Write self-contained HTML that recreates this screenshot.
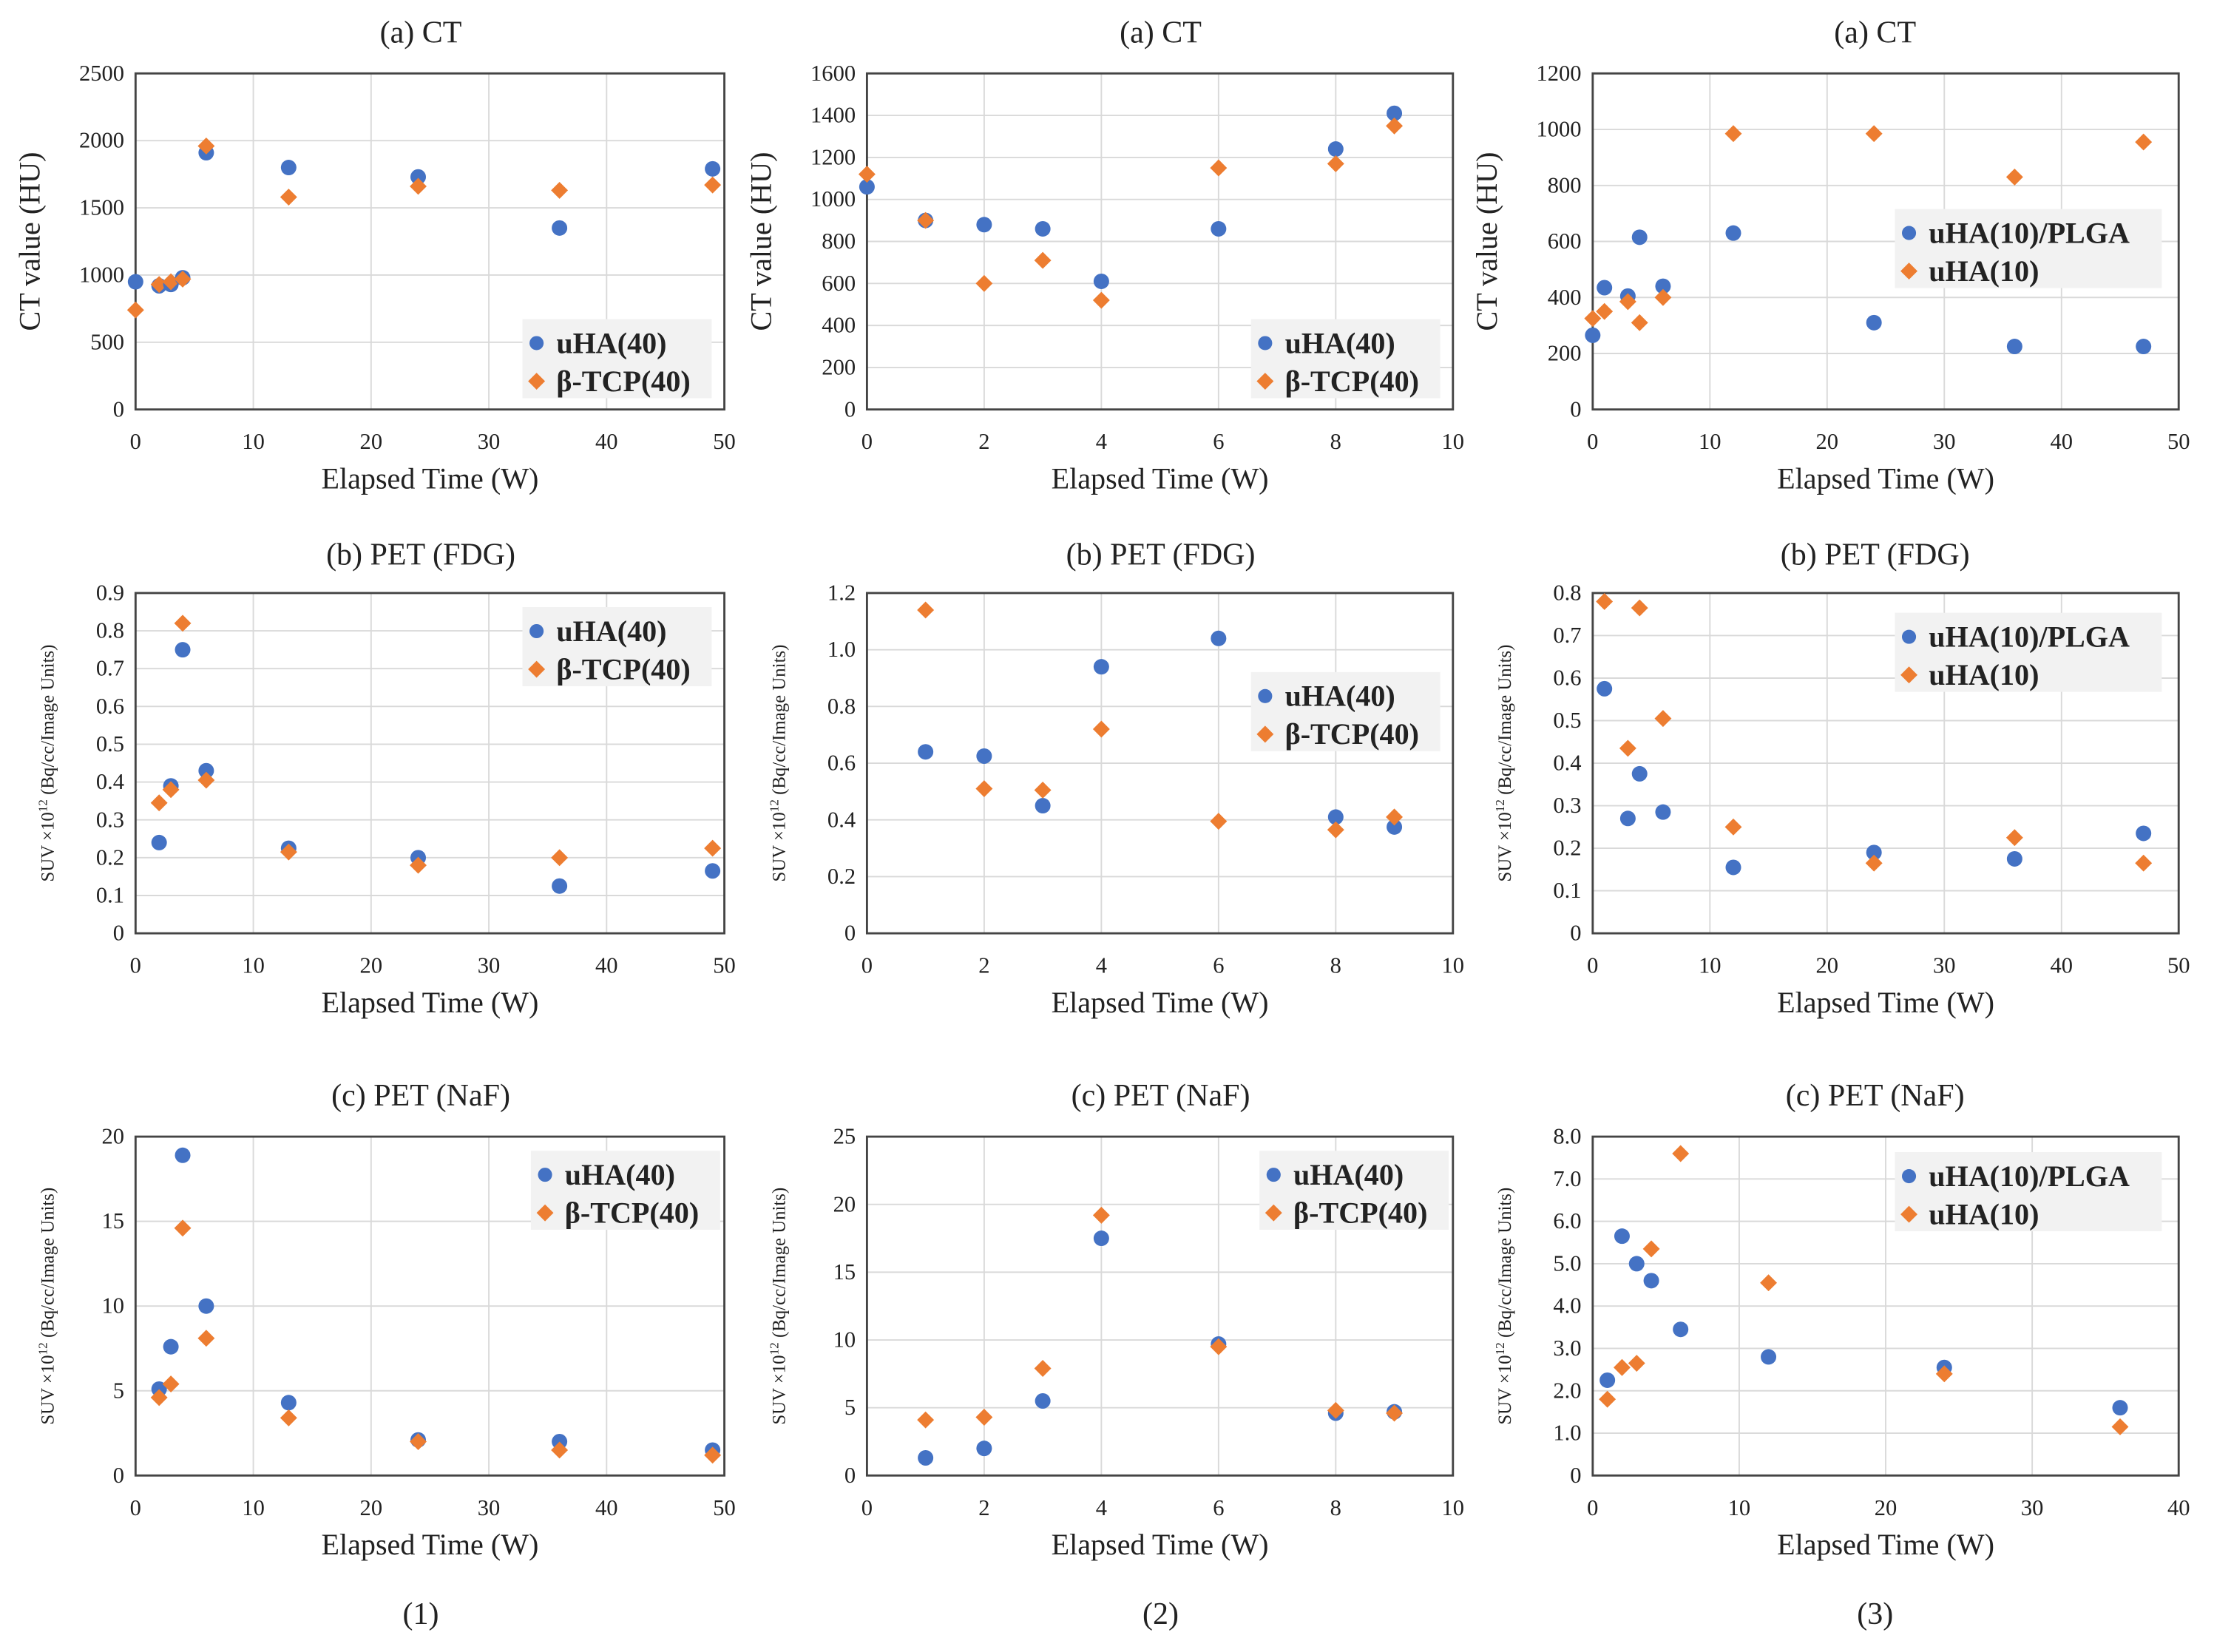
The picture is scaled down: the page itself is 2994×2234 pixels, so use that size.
<!DOCTYPE html>
<html><head><meta charset="utf-8">
<style>
html,body{margin:0;padding:0;background:#fff;}
svg{display:block;font-family:"Liberation Serif",serif;}
</style></head>
<body>
<svg id="fig" width="2994" height="2234" viewBox="0 0 1568 1170" xmlns="http://www.w3.org/2000/svg"></svg>
<script>
// ---- data ----
const ct1X = [0,2,3,4,6,13,24,36,49];
const ct1A = [950,920,930,980,1910,1800,1730,1350,1790];
const ct1B = [740,930,950,970,1960,1580,1660,1630,1670];
const ct2X = [0,1,2,3,4,6,8,9];
const ct2A = [1060,900,880,860,610,860,1240,1410];
const ct2B = [1120,900,600,710,520,1150,1170,1350];
const ct3X = [0,1,3,4,6,12,24,36,47];
const ct3A = [265,435,405,615,440,630,310,225,225];
const ct3B = [325,350,385,310,400,985,985,830,955];
const fdg1X = [2,3,4,6,13,24,36,49];
const fdg1A = [0.24,0.39,0.75,0.43,0.225,0.20,0.125,0.165];
const fdg1B = [0.345,0.38,0.82,0.405,0.215,0.18,0.20,0.225];
const fdg2X = [1,2,3,4,6,8,9];
const fdg2A = [0.64,0.625,0.45,0.94,1.04,0.41,0.375];
const fdg2B = [1.14,0.51,0.505,0.72,0.395,0.365,0.41];
const fdg3X = [1,3,4,6,12,24,36,47];
const fdg3A = [0.575,0.27,0.375,0.285,0.155,0.19,0.175,0.235];
const fdg3B = [0.78,0.435,0.765,0.505,0.25,0.165,0.225,0.165];
const naf1X = [2,3,4,6,13,24,36,49];
const naf1A = [5.1,7.6,18.9,10,4.3,2.1,2.0,1.5];
const naf1B = [4.6,5.4,14.6,8.1,3.4,2.0,1.5,1.2];
const naf2X = [1,2,3,4,6,8,9];
const naf2A = [1.3,2.0,5.5,17.5,9.7,4.6,4.7];
const naf2B = [4.1,4.3,7.9,19.2,9.5,4.8,4.6];
const naf3X = [1,2,3,4,6,12,24,36];
const naf3A = [2.25,5.65,5.0,4.6,3.45,2.8,2.55,1.6];
const naf3B = [1.8,2.55,2.65,5.35,7.6,4.55,2.4,1.15];
const legend40 = ["uHA(40)","β-TCP(40)"];
const legend10 = ["uHA(10)/PLGA","uHA(10)"];
const xTicks50 = [0,10,20,30,40,50];
const xTicks10 = [0,2,4,6,8,10];
const xTicks40 = [0,10,20,30,40];
const yTicksCt1 = [0,500,1000,1500,2000,2500];
const yTicksCt2 = [0,200,400,600,800,1000,1200,1400,1600];
const yTicksCt3 = [0,200,400,600,800,1000,1200];
const yTicksF1 = [0,0.1,0.2,0.3,0.4,0.5,0.6,0.7,0.8,0.9];
const yTicksF2 = [0,0.2,0.4,0.6,0.8,1.0,1.2];
const yTicksF3 = [0,0.1,0.2,0.3,0.4,0.5,0.6,0.7,0.8];
const yTicksN1 = [0,5,10,15,20];
const yTicksN2 = [0,5,10,15,20,25];
const yTicksN3 = [0,1,2,3,4,5,6,7,8];

const NS="http://www.w3.org/2000/svg";
const svg=document.getElementById('fig');
function mk(tag,attrs,parent){const e=document.createElementNS(NS,tag);for(const k in attrs)e.setAttribute(k,attrs[k]);(parent||svg).appendChild(e);return e;}

const cols=[{x0:96,x1:513,cx:298},{x0:614,x1:1029,cx:822},{x0:1128,x1:1543,cx:1328}];
const rows=[{y0:52,y1:290,ty:30,title:"(a) CT"},{y0:420,y1:661,ty:400,title:"(b) PET (FDG)"},{y0:805,y1:1045,ty:783,title:"(c) PET (NaF)"}];

function panel(r,c,xs,as,bs,xt,yt,fmt,leg,lb,name){
  const C=cols[c],R=rows[r];
  const g=mk('g',{});
  
  
  const xmax=xt[xt.length-1],ymax=yt[yt.length-1];
  const sx=v=>C.x0+(C.x1-C.x0)*v/xmax;
  const sy=v=>R.y1-(R.y1-R.y0)*v/ymax;
  const t=mk('text',{x:C.cx,y:R.ty,'text-anchor':'middle','font-size':22,fill:'#222'},g);t.textContent=R.title;
  
  xt.forEach(v=>{mk('line',{x1:sx(v),x2:sx(v),y1:R.y0,y2:R.y1,stroke:'#d9d9d9','stroke-width':1},g);
    const l=mk('text',{x:sx(v),y:R.y1+28,'text-anchor':'middle','font-size':16,fill:'#222'},g);l.textContent=v;
    });
  yt.forEach(v=>{mk('line',{x1:C.x0,x2:C.x1,y1:sy(v),y2:sy(v),stroke:'#d9d9d9','stroke-width':1},g);
    const l=mk('text',{x:C.x0-8,y:sy(v)+5,'text-anchor':'end','font-size':16,fill:'#222'},g);l.textContent=fmt(v);
    });
  const fr=mk('rect',{x:C.x0,y:R.y0,width:C.x1-C.x0,height:R.y1-R.y0,fill:'none',stroke:'#444','stroke-width':1.5},g);
  
  const xa=mk('text',{x:(C.x0+C.x1)/2,y:R.y1+56,'text-anchor':'middle','font-size':21,fill:'#222'},g);xa.textContent="Elapsed Time (W)";
  
  const ya=mk('text',{'text-anchor':'middle',fill:'#222'},g);
  if(r===0){ya.setAttribute('font-size',21);ya.textContent="CT value (HU)";ya.setAttribute('transform',`translate(${C.x0-68},${(R.y0+R.y1)/2}) rotate(-90)`);}
  else{ya.setAttribute('font-size',13);ya.innerHTML='SUV  ×10<tspan baseline-shift="super" font-size="9">12</tspan> (Bq/cc/Image Units)';ya.setAttribute('transform',`translate(${C.x0-58},${(R.y0+R.y1)/2}) rotate(-90)`);}
  
  // legend
  const lw=leg===legend10?189:134;
  const lx=lb[0],ly=lb[1];
  const lg=mk('g',{},g);
  mk('rect',{x:lx,y:ly,width:lw,height:56,fill:'#f2f2f2'},lg);
  leg.forEach((s,i)=>{const yy=ly+15+i*27;
    if(i===0)mk('circle',{cx:lx+10,cy:yy+2,r:5,fill:'#4472c4'},lg);
    else mk('path',{d:`M${lx+10} ${yy-4}L${lx+16} ${yy+2}L${lx+10} ${yy+8}L${lx+4} ${yy+2}Z`,fill:'#ed7d31'},lg);
    const e=mk('text',{x:lx+24,y:yy+9,'font-size':21,'font-weight':'bold',fill:'#222'},lg);e.textContent=s;
    });
  xs.forEach((x,i)=>{
    const p=mk('circle',{cx:sx(x),cy:sy(as[i]),r:5.5,fill:'#4472c4'},g);
    
    const X=sx(x),Y=sy(bs[i]);
    const d=mk('path',{d:`M${X} ${Y-6}L${X+6} ${Y}L${X} ${Y+6}L${X-6} ${Y}Z`,fill:'#ed7d31'},g);
    
  });
}
const f0=v=>String(v), f1=v=>v.toFixed(1);
panel(0,0,ct1X,ct1A,ct1B,xTicks50,yTicksCt1,f0,legend40,[370,226],'ct-uha40-chart');
panel(0,1,ct2X,ct2A,ct2B,xTicks10,yTicksCt2,f0,legend40,[886,226],'ct-short-chart');
panel(0,2,ct3X,ct3A,ct3B,xTicks50,yTicksCt3,f0,legend10,[1342,148],'ct-uha10-chart');
panel(1,0,fdg1X,fdg1A,fdg1B,xTicks50,yTicksF1,v=>v===0?'0':f1(v),legend40,[370,430],'fdg-uha40-chart');
panel(1,1,fdg2X,fdg2A,fdg2B,xTicks10,yTicksF2,v=>v===0?'0':f1(v),legend40,[886,476],'fdg-short-chart');
panel(1,2,fdg3X,fdg3A,fdg3B,xTicks50,yTicksF3,v=>v===0?'0':f1(v),legend10,[1342,434],'fdg-uha10-chart');
panel(2,0,naf1X,naf1A,naf1B,xTicks50,yTicksN1,f0,legend40,[376,815],'naf-uha40-chart');
panel(2,1,naf2X,naf2A,naf2B,xTicks10,yTicksN2,f0,legend40,[892,815],'naf-short-chart');
panel(2,2,naf3X,naf3A,naf3B,xTicks40,yTicksN3,v=>v===0?'0':f1(v),legend10,[1342,816],'naf-uha10-chart');
["(1)","(2)","(3)"].forEach((s,i)=>{const e=mk('text',{x:cols[i].cx,y:1150,'text-anchor':'middle','font-size':22,fill:'#222'});e.textContent=s;
  
  });
</script>
</body></html>
